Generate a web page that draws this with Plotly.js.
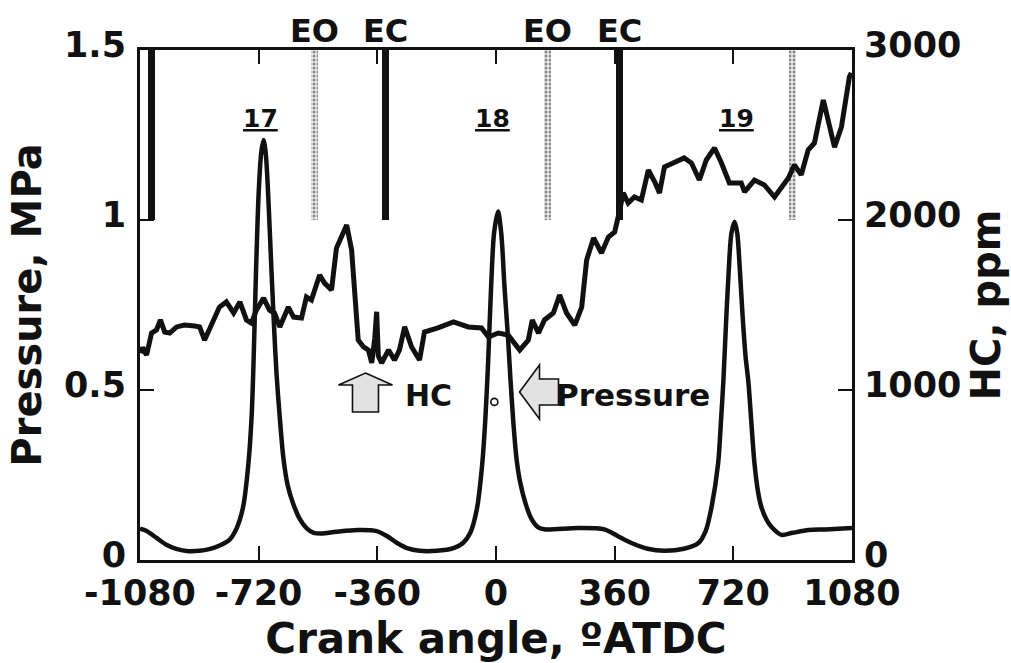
<!DOCTYPE html>
<html>
<head>
<meta charset="utf-8">
<script src="https://cdn.plot.ly/plotly-3.0.1.min.js"></script>
<style>html,body{margin:0;padding:0;background:#fff;}#chart{width:1011px;height:663px;}</style>
</head>
<body>
<div id="chart"></div>
<script>
// Crank angle (deg ATDC) and cylinder pressure (MPa)
const pressureAngle = [-1080,-1060,-1030,-1000,-970,-933,-900,-870,-840,-808,-787,-767,-751,-741,-735,-728,-720,-712,-705,-698,-690,-682,-674,-666,-656,-645,-632,-615,-595,-575,-553,-530,-484,-420,-362,-330,-300,-270,-232,-180,-129,-100,-78,-58,-42,-32,-24,-15,-6,6,16,26,36,44,53,62,73,90,108,129,150,250,329,370,411,460,511,570,614,636,654,674,682,690,698,706,714,724,732,740,748,757,766,775,784,795,805,820,836,866,900,948,1000,1080];
const pressureMPa  = [0.092,0.085,0.065,0.045,0.033,0.026,0.027,0.032,0.042,0.06,0.093,0.157,0.285,0.43,0.6,0.85,1.08,1.2,1.235,1.19,1.05,0.87,0.7,0.55,0.42,0.3,0.22,0.165,0.12,0.094,0.08,0.078,0.083,0.088,0.085,0.07,0.05,0.035,0.027,0.027,0.035,0.05,0.08,0.15,0.28,0.42,0.58,0.8,0.96,1.025,0.96,0.8,0.66,0.53,0.4,0.3,0.23,0.165,0.12,0.095,0.09,0.094,0.09,0.07,0.05,0.033,0.027,0.033,0.05,0.085,0.156,0.285,0.4,0.53,0.7,0.85,0.96,0.995,0.96,0.85,0.72,0.6,0.52,0.4,0.285,0.2,0.156,0.12,0.097,0.074,0.08,0.088,0.09,0.094];

// Crank angle (deg ATDC) and exhaust HC (ppm)
const hcAngle = [-1078,-1072,-1060,-1050,-1045,-1030,-1018,-1005,-990,-969,-945,-914,-899,-884,-869,-839,-818,-796,-777,-757,-742,-727,-705,-687,-672,-656,-630,-614,-590,-575,-560,-535,-520,-499,-484,-468,-453,-438,-429,-418,-402,-387,-377,-368,-362,-357,-347,-326,-308,-293,-277,-256,-232,-217,-176,-129,-84,-44,-23,7,37,72,98,110,129,147,174,193,214,239,260,275,296,320,341,360,372,378,386,401,420,441,462,483,496,511,541,571,593,617,638,663,684,708,744,754,784,814,845,887,905,926,947,966,993,1027,1048,1072,1078];
const hcPpm = [1217,1250,1206,1290,1335,1353,1412,1341,1335,1371,1382,1376,1371,1294,1365,1488,1518,1453,1518,1412,1394,1470,1541,1470,1453,1371,1488,1429,1423,1547,1529,1676,1629,1588,1835,1900,1970,1823,1529,1294,1253,1235,1159,1300,1460,1200,1159,1235,1176,1235,1371,1253,1176,1341,1365,1400,1371,1365,1312,1335,1323,1235,1294,1412,1335,1412,1453,1559,1453,1382,1488,1765,1894,1806,1900,1929,2030,2100,2159,2100,2135,2118,2294,2218,2159,2312,2335,2365,2335,2235,2353,2424,2335,2218,2218,2165,2235,2206,2135,2247,2324,2265,2412,2453,2706,2429,2547,2841,2865];

// Valve events: exhaust open (EO) and exhaust close (EC) markers, deg ATDC
const ecAngles = [-1045, -335, 374];
const eoAngles = [-551, 157, 900];
const markerBase = [1.0, 1.0, 1.0];
const markerSpan = [0.5, 0.5, 0.5];

// Cycle numbers and their crank angles
const cycleLabels = ['17', '18', '19'];
const cycleAngles = [-715, -12, 731];

// Event labels
const eventLabels = ['EO', 'EC', 'EO', 'EC'];
const eventLabelAngles = [-551, -335, 157, 374];

const xTicks = [-1080, -720, -360, 0, 360, 720, 1080];
const xTickText = ['-1080', '-720', '-360', '0', '360', '720', '1080'];
const pTicks = [0, 0.5, 1, 1.5];
const pTickText = ['0', '0.5', '1', '1.5'];
const hcTicks = [0, 1000, 2000, 3000];
const hcTickText = ['0', '1000', '2000', '3000'];

const FONT = 'DejaVu Sans, Liberation Sans, Arial, sans-serif';
const INK = '#111';

const traces = [
  {
    type: 'bar', x: ecAngles, y: markerSpan, base: markerBase, width: 20,
    marker: {color: INK, line: {width: 0}}, hoverinfo: 'skip', showlegend: false
  },
  {
    type: 'bar', x: eoAngles, y: markerSpan, base: markerBase, width: 20,
    marker: {color: '#e6e6e6', line: {width: 0},
             pattern: {shape: '.', fgcolor: '#8a8a8a', bgcolor: '#ececec', size: 4, solidity: 0.45}},
    hoverinfo: 'skip', showlegend: false
  },
  {
    type: 'scatter', mode: 'lines', x: pressureAngle, y: pressureMPa,
    line: {color: INK, width: 4.5, shape: 'spline', smoothing: 0.8},
    hoverinfo: 'skip', showlegend: false
  },
  {
    type: 'scatter', mode: 'lines', x: hcAngle, y: hcPpm, yaxis: 'y2',
    line: {color: INK, width: 5},
    hoverinfo: 'skip', showlegend: false
  },
  {
    type: 'scatter', mode: 'markers', x: [-5], y: [0.465],
    marker: {symbol: 'circle-open', size: 7, color: INK, line: {width: 1.6, color: INK}},
    hoverinfo: 'skip', showlegend: false
  }
];

const annotations = [];
cycleLabels.forEach((t, i) => annotations.push({
  x: cycleAngles[i], y: 1.3, xref: 'x', yref: 'y', text: '<u>' + t + '</u>', showarrow: false,
  font: {family: FONT, size: 25, color: INK, weight: 'bold'}, xanchor: 'center', yanchor: 'middle'
}));
eventLabels.forEach((t, i) => annotations.push({
  x: eventLabelAngles[i], y: 1.037, xref: 'x', yref: 'paper', text: t, showarrow: false,
  font: {family: FONT, size: 32, color: INK, weight: 'bold'}, xanchor: 'center', yanchor: 'middle'
}));
annotations.push({
  x: -283, y: 0.485, xref: 'x', yref: 'y', text: 'HC', showarrow: false,
  font: {family: FONT, size: 30, color: INK, weight: 'bold'}, xanchor: 'left', yanchor: 'middle'
});
annotations.push({
  x: 176, y: 0.485, xref: 'x', yref: 'y', text: 'Pressure', showarrow: false,
  font: {family: FONT, size: 31, color: INK, weight: 'bold'}, xanchor: 'left', yanchor: 'middle'
});

const arrowStyle = {fillcolor: '#e2e2e2', line: {color: INK, width: 1.6}, layer: 'above'};
const shapes = [
  Object.assign({
    type: 'path', xref: 'x', yref: 'y', xsizemode: 'pixel', ysizemode: 'pixel',
    xanchor: -396, yanchor: 0.494,
    path: 'M 0,19 L 27,7 L 13,7 L 13,-20 L -13,-20 L -13,7 L -27,7 Z'
  }, arrowStyle),
  Object.assign({
    type: 'path', xref: 'x', yref: 'y', xsizemode: 'pixel', ysizemode: 'pixel',
    xanchor: 132, yanchor: 0.494,
    path: 'M -20,0 L 0,27 L 0,13 L 19,13 L 19,-13 L 0,-13 L 0,-27 Z'
  }, arrowStyle)
];

const axisCommon = {
  showgrid: false, zeroline: false, showline: true, linecolor: INK, linewidth: 3,
  ticks: 'inside', ticklen: 14, tickwidth: 2, tickcolor: INK,
  tickfont: {family: FONT, size: 35, color: INK, weight: 'bold'}
};

const layout = {
  width: 1011, height: 663,
  margin: {l: 140, r: 159, t: 50, b: 103, pad: 0},
  paper_bgcolor: '#ffffff', plot_bgcolor: '#ffffff',
  barmode: 'overlay', bargap: 0,
  showlegend: false,
  xaxis: Object.assign({}, axisCommon, {
    range: [-1080, 1080], tickmode: 'array', tickvals: xTicks, ticktext: xTickText,
    mirror: 'ticks', ticklabelstandoff: 0,
    title: {text: 'Crank angle, ºATDC', standoff: 20, font: {family: FONT, size: 42, color: INK, weight: 'bold'}}
  }),
  yaxis: Object.assign({}, axisCommon, {
    range: [0, 1.5], tickmode: 'array', tickvals: pTicks, ticktext: pTickText,
    ticklabelstandoff: 4, ticklabelshift: -5,
    title: {text: 'Pressure, MPa', standoff: 10, font: {family: FONT, size: 40, color: INK, weight: 'bold'}}
  }),
  yaxis2: Object.assign({}, axisCommon, {
    overlaying: 'y', side: 'right', range: [0, 3000], tickmode: 'array', tickvals: hcTicks, ticktext: hcTickText,
    ticklabelstandoff: 2, ticklabelshift: -5,
    title: {text: 'HC, ppm', standoff: 12, font: {family: FONT, size: 40, color: INK, weight: 'bold'}}
  }),
  annotations: annotations,
  shapes: shapes
};

Plotly.newPlot('chart', traces, layout, {displayModeBar: false, staticPlot: true});
</script>
</body>
</html>
